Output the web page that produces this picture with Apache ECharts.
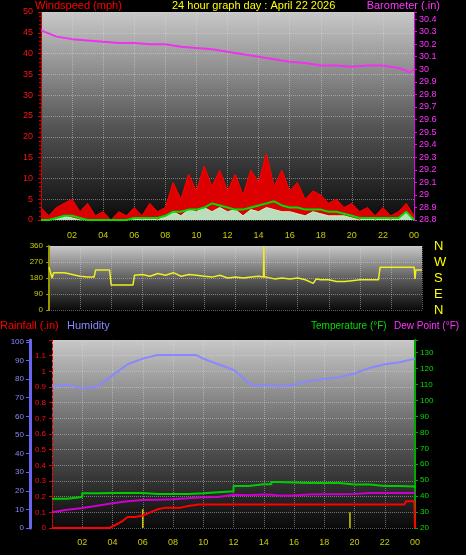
<!DOCTYPE html>
<html>
<head>
<meta charset="UTF-8">
<script src="https://cdn.jsdelivr.net/npm/echarts@6/dist/echarts.min.js"></script>
<style>
  body { margin: 0; background: #000; }
  #main { width: 466px; height: 555px; }
</style>
</head>
<body>
<div id="main"></div>
<script>
// --- data (hour of day, value) ---
const hours = [0,0.5,1,1.5,2,2.5,3,3.5,4,4.5,5,5.5,6,6.5,7,7.5,8,8.5,9,9.5,10,10.5,11,11.5,12,12.5,13,13.5,14,14.5,15,15.5,16,16.5,17,17.5,18,18.5,19,19.5,20,20.5,21,21.5,22,22.5,23,23.5,24];
const gust = [3,1,3,4,5,2,4,1,2,0,2,1,3,1,4,2,3,9,5,11,7,13,8,12,7,11,6,12,9,16,8,12,7,9,5,7,6,4,5,3,4,2,3,1,3,1,2,4,1];
const avgWind = [0,0,0.5,1,1,0.5,0,0,0,0,0,0,0.5,0.5,0.5,0.5,1,2,2,2.5,2.5,3,4,3.5,3,2.5,2.5,3,3.5,4,4.5,3.5,3,3,2.5,2.5,2.5,2,2,1.5,1,0.5,0.5,0.5,0.5,0.5,0.5,2,0];
const wind = [0,0,0.5,1,0.5,0,0,0,0,0,0,0,0.5,0,0.5,0,1,2,1,2.5,2,3,2,3,2,2.5,1,2.5,2,3,2.5,2,2,1.5,1,2,1.5,1,1,1,0.5,0,0.5,0,0.5,0,0.5,2,0];
const baroHours = [0,1,2,3,4,5,6,7,8,9,10,11,12,13,14,15,16,17,18,19,20,21,22,23,23.5,23.7,24];
const baro = [30.31,30.26,30.24,30.23,30.22,30.21,30.21,30.20,30.20,30.18,30.17,30.16,30.14,30.12,30.10,30.08,30.06,30.05,30.03,30.03,30.02,30.03,30.03,30.01,29.99,29.97,30.00];
const dirHours = [0,0.2,0.3,1,1.5,2,2.5,2.9,3,3.9,4,5.4,5.5,6,6.5,7,7.5,8,8.5,9,9.5,10,10.5,11,11.5,12,12.5,13,13.5,13.8,13.82,13.85,14,14.5,15,15.5,16,16.5,17,17.2,17.5,18,18.5,19,19.5,20,20.5,21,21.2,21.3,22,23,23.5,23.55,23.6,24];
const windDir = [240,180,210,210,200,190,185,185,225,225,140,140,195,200,190,205,195,210,190,200,195,190,185,195,180,185,180,185,190,185,360,185,185,175,180,175,180,170,150,175,170,170,160,160,165,170,170,170,170,240,240,240,240,175,225,225];
const humHours = [0,1,2,3,4,5,6,7,8,9,9.5,10,11,12,13,13.5,14,15,16,17,18,19,20,21,22,23,24];
const humidity = [76,77,75,76,82,88,91,93,93,93,93,91,88,85,78,76,77,76,77,79,80,81,83,86,88,89,91];
const tHours = [0,1,2,3,4,5,6,7,8,9,10,11,12,13,14,14.5,15,16,17,18,19,20,21,22,23,24];
const temperature = [38.3,39.5,41.8,42,42,42,41.4,41.4,41.4,41.8,42.5,43,46.3,47.5,47.5,48.8,48.6,48.2,48.2,48.2,47.3,47.3,46.3,46.3,46,45.2];
const dewPoint = [29.9,31.5,32.6,34,35.5,36.8,37.6,37.8,38,38.6,39.3,39.5,40.8,40.5,41,40.8,40.4,40.4,41,41.2,41.2,41.4,42,42,42,42];
const rainHours = [0,3.8,4.2,4.6,5,5.5,6,6.5,7,7.5,8.5,9,9.7,23.3,23.4,23.95,24];
const rain = [0,0,0.02,0.04,0.07,0.07,0.08,0.10,0.12,0.13,0.13,0.14,0.15,0.15,0.17,0.17,0];
const rateHours = [6,19.7];
const rainRate = [0.12,0.10];

const pairs = (xs, ys) => xs.map((x, i) => [x, ys[i]]);
const ticksRate = [];
rateHours.forEach((h, i) => { ticksRate.push([h, 0], [h, rainRate[i]], [h, null]); });

const FONT = 'Liberation Sans';
const bg = new echarts.graphic.LinearGradient(0, 0, 0, 1, [
  { offset: 0, color: '#c8c8c8' }, { offset: 0.55, color: '#555' }, { offset: 1, color: '#0a0a0a' }
]);
const gridLine = { show: true, lineStyle: { color: 'rgba(220,220,220,0.45)', type: 'dotted' } };
const xCommon = {
  type: 'value', min: 0, max: 24, interval: 2,
  axisLine: { show: false }, axisTick: { show: false },
  splitLine: gridLine
};
const xLabel = { color: '#cccc00', fontSize: 9, formatter: v => v === 0 ? '' : String(v % 24).padStart(2, '0') };

const chart = echarts.init(document.getElementById('main'));
chart.setOption({
  backgroundColor: '#000',
  animation: false,
  textStyle: { fontFamily: FONT },
  grid: [
    { left: 41, right: 52, top: 12, height: 208, show: true, backgroundColor: bg, borderWidth: 0 },
    { left: 49, right: 44, top: 246, height: 64, show: true, backgroundColor: bg, borderWidth: 0 },
    { left: 52, right: 51, top: 340, height: 188, show: true, backgroundColor: bg, borderWidth: 0 }
  ],
  xAxis: [
    Object.assign({ gridIndex: 0, axisLabel: Object.assign({ margin: 11 }, xLabel) }, xCommon),
    Object.assign({ gridIndex: 1, axisLabel: { show: false } }, xCommon),
    Object.assign({ gridIndex: 2, axisLabel: Object.assign({ margin: 10 }, xLabel) }, xCommon)
  ],
  yAxis: [
    { gridIndex: 0, min: 0, max: 50, interval: 5, position: 'left',
      axisLine: { show: true, lineStyle: { color: '#cc0000' } }, axisTick: { show: true, length: 3, lineStyle: { color: '#cc0000' } },
      minorTick: { show: true, splitNumber: 5, length: 2 },
      axisLabel: { color: '#ff1010', fontSize: 9, margin: 8 }, splitLine: gridLine },
    { gridIndex: 0, min: 28.8, max: 30.456, interval: 0.1, position: 'right',
      axisLine: { show: true, lineStyle: { color: '#ee00ee' } }, axisTick: { show: true, length: 3, lineStyle: { color: '#ee00ee' } },
      axisLabel: { color: '#ff33ff', fontSize: 9, margin: 5, formatter: v => v > 30.41 ? '' : +v.toFixed(1) + '' },
      splitLine: { show: false } },
    { gridIndex: 1, min: 0, max: 360, interval: 90, position: 'left',
      axisLine: { show: true, lineStyle: { color: '#999900', width: 2 } }, axisTick: { show: true, length: 3 },
      axisLabel: { color: '#cccc00', fontSize: 8, margin: 6 }, splitLine: gridLine },
    { gridIndex: 1, min: 0, max: 360, interval: 90, position: 'right',
      axisLine: { show: false }, axisTick: { show: false },
      axisLabel: { color: '#ffff00', fontSize: 13, margin: 12, formatter: v => ({ 0: 'N', 90: 'E', 180: 'S', 270: 'W', 360: 'N' })[v] },
      splitLine: { show: false } },
    { gridIndex: 2, min: 0, max: 1.2, interval: 0.1, position: 'left',
      axisLine: { show: true, lineStyle: { color: '#dd0000', type: 'dashed' } }, axisTick: { show: true, length: 3 },
      axisLabel: { color: '#ff1010', fontSize: 8, margin: 6, formatter: v => v > 1.15 ? '' : +v.toFixed(1) + '' },
      splitLine: gridLine },
    { gridIndex: 2, min: 0, max: 101, interval: 10, position: 'left', offset: 22,
      axisLine: { show: true, lineStyle: { color: '#6666ee', width: 3 } }, axisTick: { show: true, length: 4 },
      axisLabel: { color: '#8888ff', fontSize: 8, margin: 6, formatter: v => v > 100 ? '' : v },
      splitLine: { show: false } },
    { gridIndex: 2, min: 20, max: 138, interval: 10, position: 'right',
      axisLine: { show: true, lineStyle: { color: '#00aa00', width: 2 } }, axisTick: { show: true, length: 3 },
      axisLabel: { color: '#00dd00', fontSize: 8, margin: 5, formatter: v => v > 131 ? '' : v },
      splitLine: { show: false } }
  ],
  series: [
    { type: 'line', xAxisIndex: 0, yAxisIndex: 0, data: pairs(hours, gust), symbol: 'none',
      lineStyle: { color: '#ff0000', width: 1 }, areaStyle: { color: '#dd0000', opacity: 1 } },
    { type: 'line', xAxisIndex: 0, yAxisIndex: 0, data: pairs(hours, wind), symbol: 'none',
      lineStyle: { color: '#cceecc', width: 1 }, areaStyle: { color: '#bbddbb', opacity: 1 } },
    { type: 'line', xAxisIndex: 0, yAxisIndex: 0, data: pairs(hours, avgWind), symbol: 'none',
      lineStyle: { color: '#00dd00', width: 2 } },
    { type: 'line', xAxisIndex: 0, yAxisIndex: 1, data: pairs(baroHours, baro), symbol: 'none',
      lineStyle: { color: '#ee33ee', width: 2 } },
    { type: 'line', xAxisIndex: 1, yAxisIndex: 2, data: pairs(dirHours, windDir), symbol: 'none',
      lineStyle: { color: '#eeee22', width: 1.5 } },
    { type: 'line', xAxisIndex: 2, yAxisIndex: 5, data: pairs(humHours, humidity), symbol: 'none',
      lineStyle: { color: '#8888ff', width: 2 } },
    { type: 'line', xAxisIndex: 2, yAxisIndex: 6, data: pairs(tHours, temperature), symbol: 'none', step: 'end',
      lineStyle: { color: '#00cc00', width: 2 } },
    { type: 'line', xAxisIndex: 2, yAxisIndex: 6, data: pairs(tHours, dewPoint), symbol: 'none',
      lineStyle: { color: '#cc00cc', width: 2 } },
    { type: 'line', xAxisIndex: 2, yAxisIndex: 4, data: ticksRate, symbol: 'none', connectNulls: false,
      lineStyle: { color: '#cccc00', width: 1.5 } },
    { type: 'line', xAxisIndex: 2, yAxisIndex: 4, data: pairs(rainHours, rain), symbol: 'none',
      lineStyle: { color: '#ff0000', width: 2 } }
  ],
  graphic: [
    { type: 'text', left: 35, top: 0, style: { text: 'Windspeed (mph)', fill: '#ff0000', font: '11px "Liberation Sans"' } },
    { type: 'text', left: 172, top: 0, style: { text: '24 hour graph day : April 22 2026', fill: '#ffff00', font: '11px "Liberation Sans"' } },
    { type: 'text', right: 26, top: 0, style: { text: 'Barometer (.in)', fill: '#ff33ff', font: '11px "Liberation Sans"' } },
    { type: 'text', left: 0, top: 320, style: { text: 'Rainfall (.in)', fill: '#ff0000', font: '11px "Liberation Sans"' } },
    { type: 'text', left: 67, top: 320, style: { text: 'Humidity', fill: '#8888ff', font: '11px "Liberation Sans"' } },
    { type: 'text', left: 311, top: 321, style: { text: 'Temperature (°F)', fill: '#00dd00', font: '10px "Liberation Sans"' } },
    { type: 'text', left: 394, top: 321, style: { text: 'Dew Point (°F)', fill: '#ff33ff', font: '10px "Liberation Sans"' } }
  ]
});
</script>
</body>
</html>
